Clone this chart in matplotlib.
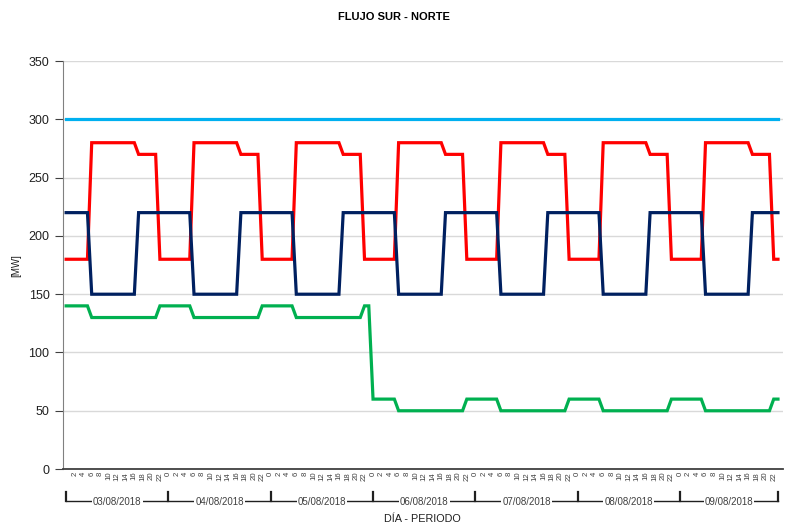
import numpy as np
import matplotlib
matplotlib.use('Agg')
import matplotlib.pyplot as plt
import matplotlib.transforms as mtransforms

# data: one row of 24 hourly values per day
days = ['03/08/2018', '04/08/2018', '05/08/2018', '06/08/2018',
        '07/08/2018', '08/08/2018', '09/08/2018']

limite = [
    [300, 300, 300, 300, 300, 300, 300, 300, 300, 300, 300, 300, 300, 300, 300, 300, 300, 300, 300, 300, 300, 300, 300, 300],
    [300, 300, 300, 300, 300, 300, 300, 300, 300, 300, 300, 300, 300, 300, 300, 300, 300, 300, 300, 300, 300, 300, 300, 300],
    [300, 300, 300, 300, 300, 300, 300, 300, 300, 300, 300, 300, 300, 300, 300, 300, 300, 300, 300, 300, 300, 300, 300, 300],
    [300, 300, 300, 300, 300, 300, 300, 300, 300, 300, 300, 300, 300, 300, 300, 300, 300, 300, 300, 300, 300, 300, 300, 300],
    [300, 300, 300, 300, 300, 300, 300, 300, 300, 300, 300, 300, 300, 300, 300, 300, 300, 300, 300, 300, 300, 300, 300, 300],
    [300, 300, 300, 300, 300, 300, 300, 300, 300, 300, 300, 300, 300, 300, 300, 300, 300, 300, 300, 300, 300, 300, 300, 300],
    [300, 300, 300, 300, 300, 300, 300, 300, 300, 300, 300, 300, 300, 300, 300, 300, 300, 300, 300, 300, 300, 300, 300, 300],
]
rojo = [
    [180, 180, 180, 180, 180, 180, 280, 280, 280, 280, 280, 280, 280, 280, 280, 280, 280, 270, 270, 270, 270, 270, 180, 180],
    [180, 180, 180, 180, 180, 180, 280, 280, 280, 280, 280, 280, 280, 280, 280, 280, 280, 270, 270, 270, 270, 270, 180, 180],
    [180, 180, 180, 180, 180, 180, 280, 280, 280, 280, 280, 280, 280, 280, 280, 280, 280, 270, 270, 270, 270, 270, 180, 180],
    [180, 180, 180, 180, 180, 180, 280, 280, 280, 280, 280, 280, 280, 280, 280, 280, 280, 270, 270, 270, 270, 270, 180, 180],
    [180, 180, 180, 180, 180, 180, 280, 280, 280, 280, 280, 280, 280, 280, 280, 280, 280, 270, 270, 270, 270, 270, 180, 180],
    [180, 180, 180, 180, 180, 180, 280, 280, 280, 280, 280, 280, 280, 280, 280, 280, 280, 270, 270, 270, 270, 270, 180, 180],
    [180, 180, 180, 180, 180, 180, 280, 280, 280, 280, 280, 280, 280, 280, 280, 280, 280, 270, 270, 270, 270, 270, 180, 180],
]
azul = [
    [220, 220, 220, 220, 220, 220, 150, 150, 150, 150, 150, 150, 150, 150, 150, 150, 150, 220, 220, 220, 220, 220, 220, 220],
    [220, 220, 220, 220, 220, 220, 150, 150, 150, 150, 150, 150, 150, 150, 150, 150, 150, 220, 220, 220, 220, 220, 220, 220],
    [220, 220, 220, 220, 220, 220, 150, 150, 150, 150, 150, 150, 150, 150, 150, 150, 150, 220, 220, 220, 220, 220, 220, 220],
    [220, 220, 220, 220, 220, 220, 150, 150, 150, 150, 150, 150, 150, 150, 150, 150, 150, 220, 220, 220, 220, 220, 220, 220],
    [220, 220, 220, 220, 220, 220, 150, 150, 150, 150, 150, 150, 150, 150, 150, 150, 150, 220, 220, 220, 220, 220, 220, 220],
    [220, 220, 220, 220, 220, 220, 150, 150, 150, 150, 150, 150, 150, 150, 150, 150, 150, 220, 220, 220, 220, 220, 220, 220],
    [220, 220, 220, 220, 220, 220, 150, 150, 150, 150, 150, 150, 150, 150, 150, 150, 150, 220, 220, 220, 220, 220, 220, 220],
]
verde = [
    [140, 140, 140, 140, 140, 140, 130, 130, 130, 130, 130, 130, 130, 130, 130, 130, 130, 130, 130, 130, 130, 130, 140, 140],
    [140, 140, 140, 140, 140, 140, 130, 130, 130, 130, 130, 130, 130, 130, 130, 130, 130, 130, 130, 130, 130, 130, 140, 140],
    [140, 140, 140, 140, 140, 140, 130, 130, 130, 130, 130, 130, 130, 130, 130, 130, 130, 130, 130, 130, 130, 130, 140, 140],
    [60, 60, 60, 60, 60, 60, 50, 50, 50, 50, 50, 50, 50, 50, 50, 50, 50, 50, 50, 50, 50, 50, 60, 60],
    [60, 60, 60, 60, 60, 60, 50, 50, 50, 50, 50, 50, 50, 50, 50, 50, 50, 50, 50, 50, 50, 50, 60, 60],
    [60, 60, 60, 60, 60, 60, 50, 50, 50, 50, 50, 50, 50, 50, 50, 50, 50, 50, 50, 50, 50, 50, 60, 60],
    [60, 60, 60, 60, 60, 60, 50, 50, 50, 50, 50, 50, 50, 50, 50, 50, 50, 50, 50, 50, 50, 50, 60, 60],
]

plt.rcParams['font.family'] = ['Liberation Sans', 'DejaVu Sans']

n = len(days) * 24
x = np.arange(n)

fig = plt.figure(figsize=(7.91, 5.27), dpi=100)
ax = fig.add_axes([0.0793, 0.110, 0.9107, 0.774])

ax.plot(x, np.ravel(limite), color='#00B0F0', lw=2.3, solid_joinstyle='miter')
ax.plot(x, np.ravel(rojo), color='#FF0000', lw=2.3, solid_joinstyle='miter')
ax.plot(x, np.ravel(azul), color='#002060', lw=2.3, solid_joinstyle='miter')
ax.plot(x, np.ravel(verde), color='#00B050', lw=2.3, solid_joinstyle='miter')

ax.set_xlim(-0.8, n + 0.2)
ax.set_ylim(0, 350)
ax.set_yticks(np.arange(0, 351, 50))
ax.grid(axis='y', color='#D9D9D9', lw=1)
ax.set_axisbelow(True)
ax.tick_params(axis='y', labelsize=9, length=6, color='#404040', labelcolor='#202020')

# hour labels every 2 periods
hticks = x[x % 2 == 0][1:]
ax.set_xticks(hticks)
ax.set_xticklabels([str(h % 24) for h in hticks], rotation=90, fontsize=5.6, color='#404040')
ax.tick_params(axis='x', length=0, pad=2)

for s in ['top', 'right']:
    ax.spines[s].set_visible(False)
ax.spines['left'].set_color('#808080')
ax.spines['bottom'].set_color('#404040')
ax.spines['bottom'].set_linewidth(1.3)

# day brackets below the hour labels
tr = mtransforms.blended_transform_factory(ax.transData, ax.transAxes)
yb = -0.079
bounds = [i * 24 for i in range(len(days))] + [n - 1]
ax.plot([bounds[0], bounds[-1]], [yb, yb], transform=tr, color='#202020', lw=1, clip_on=False)
for b in bounds:
    ax.plot([b, b], [yb, yb + 0.022], transform=tr, color='#202020', lw=1.6, clip_on=False)
for i, d in enumerate(days):
    xm = (bounds[i] + bounds[i + 1]) / 2
    ax.text(xm, yb - 0.002, d, transform=tr, ha='center', va='center', fontsize=7,
            color='#404040', bbox=dict(facecolor='white', edgecolor='none', pad=0.8))

fig.text(0.534, 0.015, 'DÍA - PERIODO', ha='center', va='center', fontsize=7.8, color='#202020')
fig.text(0.02, 0.497, '[MW]', rotation=90, ha='center', va='center', fontsize=7, color='#202020')
fig.text(0.498, 0.967, 'FLUJO SUR - NORTE', ha='center', va='center', fontsize=8,
         fontweight='bold', family=['Liberation Sans Narrow', 'Liberation Sans', 'DejaVu Sans'])

fig.savefig('out.png', dpi=100)
